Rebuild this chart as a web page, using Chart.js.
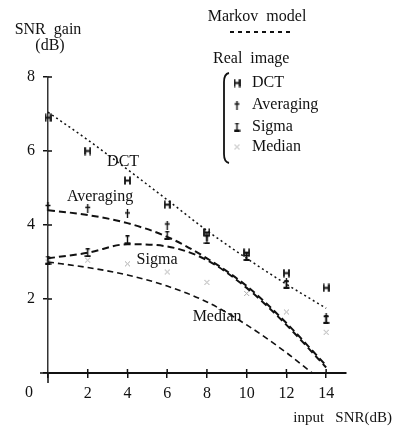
<!DOCTYPE html>
<html>
<head>
<meta charset="utf-8">
<script src="https://cdn.jsdelivr.net/npm/chart.js@4.4.1/dist/chart.umd.min.js"></script>
<style>
  html, body { margin: 0; padding: 0; background: #fff; }
  #wrap { position: relative; width: 399px; height: 430px; }
</style>
</head>
<body>
<div id="wrap"><canvas id="snr" width="399" height="430"></canvas></div>
<script>
// input SNR (dB)
var snrInput = [0, 2, 4, 6, 8, 10, 12, 14];
var medianInput = [0, 2, 4, 6, 8, 10, 12, 13.3];

// Markov model (theory curves), SNR gain in dB
var markovDct = [7.05, 6.3, 5.5, 4.68, 3.85, 3.1, 2.4, 1.75];
var markovAveraging = [4.4, 4.27, 4.05, 3.68, 3.1, 2.35, 1.35, 0.2];
var markovSigma = [3.1, 3.25, 3.48, 3.42, 3.05, 2.3, 1.3, 0.15];
var markovMedian = [3.0, 2.85, 2.65, 2.35, 1.92, 1.3, 0.55, 0];

// Real image measurements
var realDct = [6.9, 6.0, 5.2, 4.55, 3.8, 3.25, 2.7, 2.3];
var realAveraging = [4.5, 4.45, 4.3, 4.0, 3.7, 3.15, 2.45, 1.5];
var realSigma = [3.05, 3.25, 3.6, 3.72, 3.6, 3.15, 2.4, 1.45];
var realMedian = [3.0, 3.05, 2.95, 2.73, 2.45, 2.15, 1.65, 1.1];

var yTicks = [2, 4, 6, 8];
var xTicks = [2, 4, 6, 8, 10, 12, 14];

var serif = "'Liberation Serif', 'DejaVu Serif', serif";

function pts(xs, ys) {
    return xs.map(function (x, i) { return { x: x, y: ys[i] }; });
}

function marker(w, h, draw) {
    var c = document.createElement('canvas');
    c.width = w; c.height = h;
    var g = c.getContext('2d');
    g.strokeStyle = '#111'; g.fillStyle = '#111';
    draw(g);
    return c;
}

var dctMark = marker(7, 9, function (g) {
    g.lineWidth = 1.8;
    g.beginPath();
    g.moveTo(1, 0.5); g.lineTo(1, 8.5);
    g.moveTo(6, 0.5); g.lineTo(6, 8.5);
    g.moveTo(1, 4.5); g.lineTo(6, 4.5);
    g.stroke();
});
var avgMark = marker(7, 9, function (g) {
    g.lineWidth = 1.4;
    g.beginPath();
    g.moveTo(3.5, 0); g.lineTo(3.5, 9);
    g.moveTo(1, 3.5); g.lineTo(6, 3.5);
    g.stroke();
});
var sigmaMark = marker(7, 9, function (g) {
    g.lineWidth = 1.4;
    g.beginPath();
    g.moveTo(3.5, 0.5); g.lineTo(3.5, 8);
    g.moveTo(1.5, 0.7); g.lineTo(5.5, 0.7);
    g.stroke();
    g.fillRect(0.5, 7, 6, 2);
});
var medianMark = marker(7, 7, function (g) {
    g.strokeStyle = '#aaa';
    g.lineWidth = 1;
    g.beginPath();
    g.moveTo(1, 1); g.lineTo(6, 6);
    g.moveTo(6, 1); g.lineTo(1, 6);
    g.stroke();
});

function theory(data, dash, width) {
    return {
        data: data, showLine: true, pointRadius: 0, borderColor: '#111',
        borderWidth: width, borderDash: dash, cubicInterpolationMode: 'monotone',
        clip: false
    };
}
function real(data, style) {
    return {
        data: data, showLine: false, pointStyle: style, pointRadius: 4,
        clip: false
    };
}

// curve names placed at data coordinates
var curveNames = [
    { text: 'DCT', x: 3.78, y: 5.7 },
    { text: 'Averaging', x: 2.62, y: 4.76 },
    { text: 'Sigma', x: 5.49, y: 3.05 },
    { text: 'Median', x: 8.51, y: 1.51 }
];

var decor = {
    id: 'decor',
    afterDraw: function (chart) {
        var ctx = chart.ctx, xs = chart.scales.x, ys = chart.scales.y;
        var x0 = xs.getPixelForValue(0), y0 = ys.getPixelForValue(0);
        ctx.save();
        ctx.strokeStyle = '#111';
        ctx.lineWidth = 1.5;
        ctx.beginPath();
        ctx.moveTo(x0, y0); ctx.lineTo(x0, y0 + 10);
        ctx.moveTo(x0, y0); ctx.lineTo(x0 - 8, y0);
        yTicks.forEach(function (v) {
            var p = ys.getPixelForValue(v);
            ctx.moveTo(x0, p); ctx.lineTo(x0 + 4, p);
        });
        xTicks.forEach(function (v) {
            var p = xs.getPixelForValue(v);
            ctx.moveTo(p, y0); ctx.lineTo(p, y0 - 4);
        });
        ctx.stroke();

        ctx.fillStyle = '#111';
        ctx.textBaseline = 'middle';
        ctx.textAlign = 'center';
        ctx.font = '16px ' + serif;
        ctx.fillText('0', x0 - 19, 393);
        ctx.fillText('SNR  gain', x0, 30);
        ctx.fillText('(dB)', x0 + 2, 46);

        ctx.font = '15px ' + serif;
        ctx.textAlign = 'right';
        ctx.fillText('input   SNR(dB)', 392, 418);

        // curve names
        ctx.font = '16px ' + serif;
        ctx.textAlign = 'center';
        curveNames.forEach(function (n) {
            ctx.fillText(n.text, xs.getPixelForValue(n.x), ys.getPixelForValue(n.y));
        });

        // legend
        ctx.font = '16px ' + serif;
        ctx.fillText('Markov  model', 257, 17);
        ctx.setLineDash([4, 4]);
        ctx.lineWidth = 2;
        ctx.beginPath();
        ctx.moveTo(230, 32); ctx.lineTo(292, 32);
        ctx.stroke();
        ctx.setLineDash([]);
        ctx.textAlign = 'left';
        ctx.fillText('Real  image', 213, 59);

        ctx.lineWidth = 1.8;
        ctx.beginPath();
        ctx.moveTo(229, 73);
        ctx.quadraticCurveTo(224, 74, 224, 82);
        ctx.lineTo(224, 154);
        ctx.quadraticCurveTo(224, 162, 229, 163);
        ctx.stroke();

        var rows = [
            { mark: dctMark, text: 'DCT', y: 83 },
            { mark: avgMark, text: 'Averaging', y: 105 },
            { mark: sigmaMark, text: 'Sigma', y: 127 },
            { mark: medianMark, text: 'Median', y: 147 }
        ];
        rows.forEach(function (r) {
            ctx.drawImage(r.mark, 237 - r.mark.width / 2, r.y - r.mark.height / 2);
            ctx.fillText(r.text, 252, r.y);
        });
        ctx.restore();
    }
};

new Chart(document.getElementById('snr').getContext('2d'), {
    type: 'scatter',
    data: {
        datasets: [
            theory(pts(snrInput, markovDct), [2, 3], 1.5),
            theory(pts(snrInput, markovAveraging), [7, 4], 2),
            theory(pts(snrInput, markovSigma), [7, 4], 2),
            theory(pts(medianInput, markovMedian), [6, 4], 1.6),
            real(pts(snrInput, realDct), dctMark),
            real(pts(snrInput, realAveraging), avgMark),
            real(pts(snrInput, realSigma), sigmaMark),
            real(pts(snrInput, realMedian), medianMark)
        ]
    },
    options: {
        responsive: false,
        animation: false,
        events: [],
        layout: { padding: { top: 77, right: 53, left: 0, bottom: 0 } },
        plugins: { legend: { display: false }, tooltip: { enabled: false } },
        scales: {
            x: {
                type: 'linear', min: 0, max: 15,
                afterFit: function (s) { s.height = 57; },
                afterBuildTicks: function (s) {
                    s.ticks = [0].concat(xTicks).map(function (v) { return { value: v }; });
                },
                border: { color: '#111', width: 2 },
                grid: { drawOnChartArea: false, tickLength: 5, color: '#111', lineWidth: 1.5 },
                ticks: {
                    padding: 6, color: '#111', font: { family: serif, size: 16 },
                    callback: function (v) { return v === 0 ? '' : v; }
                }
            },
            y: {
                min: 0, max: 8,
                afterFit: function (s) { s.width = 48; },
                afterBuildTicks: function (s) {
                    s.ticks = [0].concat(yTicks).map(function (v) { return { value: v }; });
                },
                border: { color: '#333', width: 1.5 },
                grid: { drawOnChartArea: false, tickLength: 5, color: '#111', lineWidth: 1.5 },
                ticks: {
                    padding: 8, color: '#111', font: { family: serif, size: 16 },
                    callback: function (v) { return v === 0 ? '' : v; }
                }
            }
        }
    },
    plugins: [decor]
});
</script>
</body>
</html>
